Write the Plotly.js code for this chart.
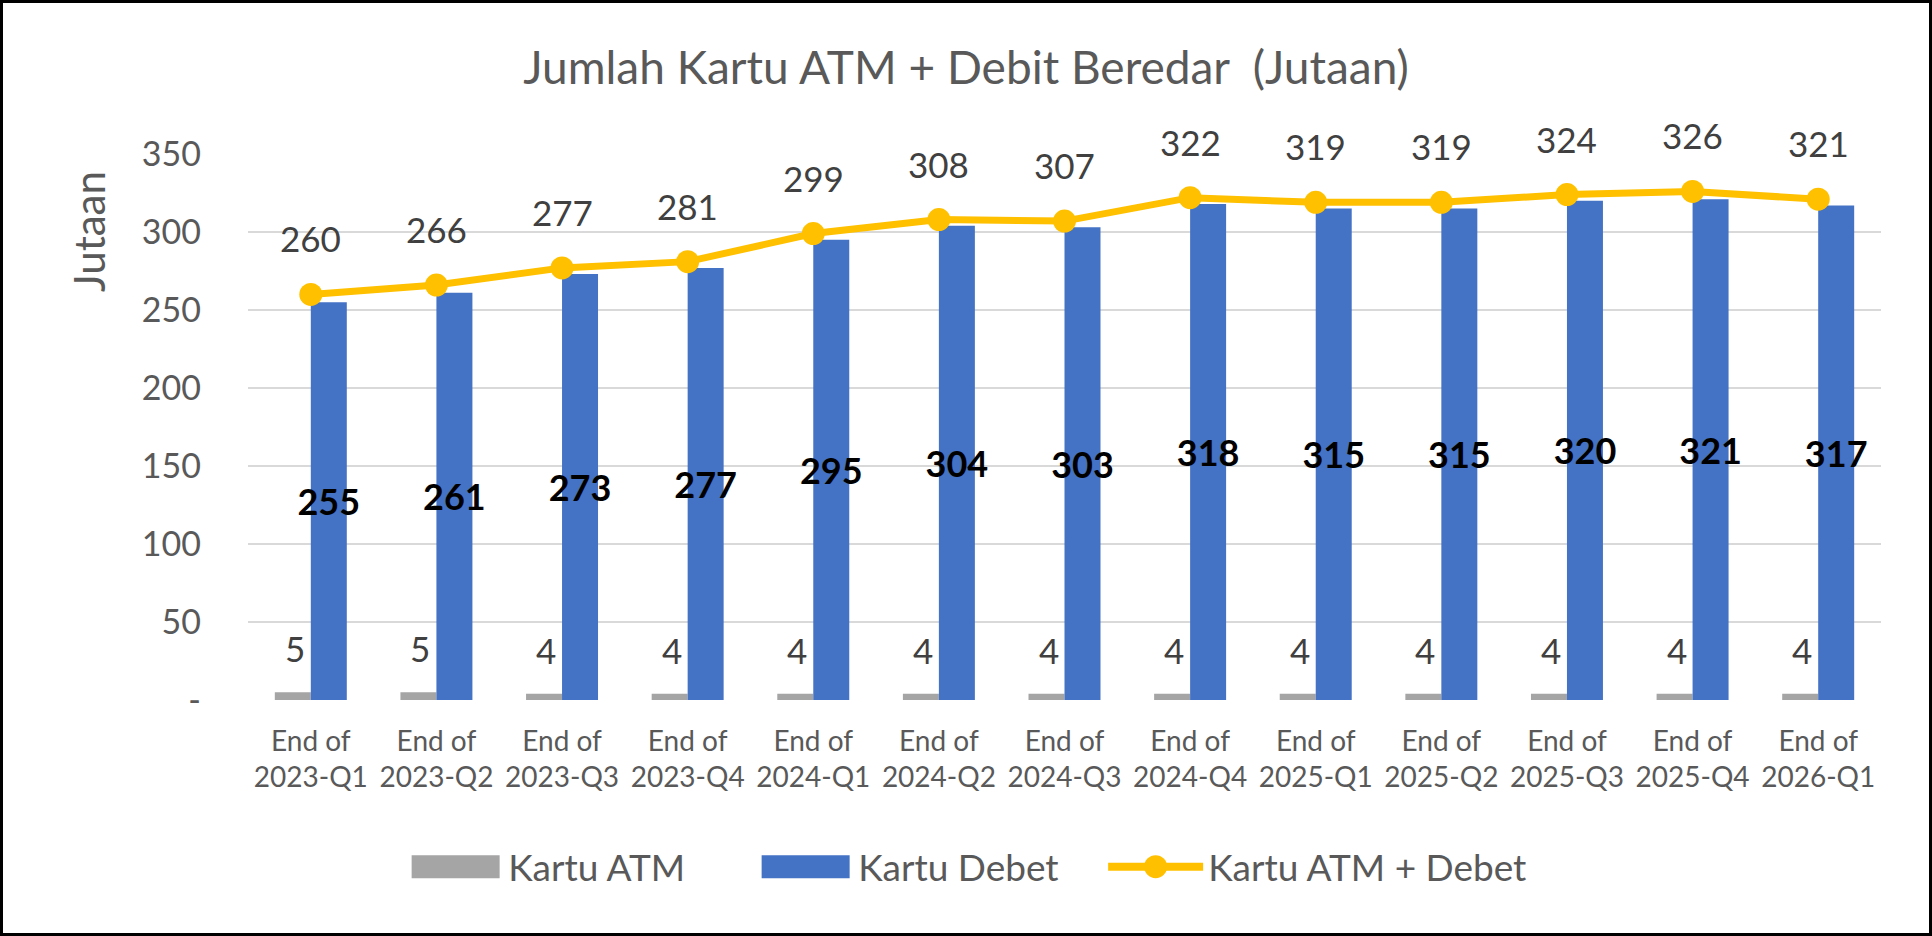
<!DOCTYPE html>
<html>
<head>
<meta charset="utf-8">
<script src="https://cdn.plot.ly/plotly-3.0.1.min.js"></script>
<style>
    html, body { margin: 0; padding: 0; background: #fff; }
    #frame {
        position: absolute; left: 0; top: 0;
        width: 1932px; height: 936px;
        box-sizing: border-box;
        border: 3px solid #000;
        background: #fff;
    }
    #chart { width: 1926px; height: 930px; }
</style>
</head>
<body>
<div id="frame"><div id="chart"></div></div>
<script>
// =========================
// DATA
// =========================
const periods = ["2023-Q1", "2023-Q2", "2023-Q3", "2023-Q4", "2024-Q1", "2024-Q2", "2024-Q3",
                 "2024-Q4", "2025-Q1", "2025-Q2", "2025-Q3", "2025-Q4", "2026-Q1"];
const kartuATM = [5, 5, 4, 4, 4, 4, 4, 4, 4, 4, 4, 4, 4];
const kartuDebet = [255, 261, 273, 277, 295, 304, 303, 318, 315, 315, 320, 321, 317];
const kartuTotal = [260, 266, 277, 281, 299, 308, 307, 322, 319, 319, 324, 326, 321];
const yTickVals = [0, 50, 100, 150, 200, 250, 300, 350];
const yTickText = ["-", "50", "100", "150", "200", "250", "300", "350"];

const categories = periods.map(p => "End of<br>" + p);

// =========================
// STYLE
// =========================
const FONT = "Lato, 'Open Sans', sans-serif";
const GREY_TXT = "#595959";
const DARK_TXT = "#404040";

// =========================
// TRACES
// =========================
let traceATM = {
    x: categories,
    y: kartuATM,
    type: "bar",
    name: "Kartu ATM",
    marker: { color: "#A5A5A5" }
};

let traceDebet = {
    x: categories,
    y: kartuDebet,
    type: "bar",
    name: "Kartu Debet",
    marker: { color: "#4472C4" },
    text: kartuDebet.map(String),
    textposition: "inside",
    insidetextanchor: "middle",
    textangle: 0,
    constraintext: "none",
    textfont: { family: FONT, size: 36, color: "#000", weight: "bold" }
};

let traceTotal = {
    x: categories,
    y: kartuTotal,
    type: "scatter",
    mode: "lines+markers",
    name: "Kartu ATM + Debet",
    line: { color: "#FFC000", width: 7 },
    marker: { color: "#FFC000", size: 23 },
    cliponaxis: false
};

// =========================
// LABELS (annotations)
// =========================
let annotations = [];

kartuTotal.forEach((v, i) => {
    annotations.push({
        x: categories[i], y: v, xref: "x", yref: "y",
        text: String(v), showarrow: false,
        yshift: 56, yanchor: "middle",
        font: { family: FONT, size: 35, color: DARK_TXT }
    });
});

kartuATM.forEach((v, i) => {
    annotations.push({
        x: categories[i], y: v, xref: "x", yref: "y",
        text: String(v), showarrow: false,
        xshift: -16, yshift: 44, yanchor: "middle",
        font: { family: FONT, size: 35, color: DARK_TXT }
    });
});

annotations.push({
    text: "Jutaan", xref: "paper", yref: "paper",
    x: -0.0974, y: 0.859, showarrow: false, textangle: -90,
    xanchor: "center", yanchor: "middle",
    font: { family: FONT, size: 42, color: GREY_TXT }
});

// =========================
// LAYOUT
// =========================
let layout = {
    width: 1926,
    height: 930,
    margin: { l: 245, r: 48, t: 151, b: 233, autoexpand: false },
    paper_bgcolor: "#fff",
    plot_bgcolor: "#fff",
    font: { family: FONT, color: GREY_TXT },
    title: {
        text: "Jumlah Kartu ATM + Debit Beredar  (Jutaan)",
        x: 0.5, xref: "container", xanchor: "center",
        y: 0.9306, yref: "container", yanchor: "middle",
        font: { family: FONT, size: 46, color: GREY_TXT }
    },
    barmode: "group",
    bargap: 0.427,
    bargroupgap: 0,
    xaxis: {
        type: "category",
        range: [-0.5, periods.length - 0.5],
        showgrid: false,
        showline: false,
        zeroline: false,
        ticks: "",
        tickangle: 0,
        automargin: false,
        ticklabelstandoff: 22,
        tickfont: { family: FONT, size: 28, color: GREY_TXT }
    },
    yaxis: {
        range: [0, 350],
        tickvals: yTickVals,
        ticktext: yTickText,
        showgrid: true,
        gridcolor: "#D9D9D9",
        gridwidth: 2.5,
        zeroline: false,
        showline: false,
        ticks: "",
        automargin: false,
        ticklabelstandoff: 46,
        tickfont: { family: FONT, size: 34, color: GREY_TXT }
    },
    showlegend: true,
    legend: {
        orientation: "h",
        x: 0.095, xanchor: "left",
        y: -0.306, yanchor: "middle",
        itemwidth: 95,
        entrywidth: 240,
        font: { family: FONT, size: 37, color: GREY_TXT },
        traceorder: "normal"
    },
    annotations: annotations
};

Plotly.newPlot("chart", [traceATM, traceDebet, traceTotal], layout, { displayModeBar: false, staticPlot: true })
    .then(() => {
        // legend symbols: wide bar swatches, thicker line and bigger dot like Excel
        document.querySelectorAll("#chart .legend .legendpoints path").forEach(p => {
            if (p.classList.contains("scatterpts")) {
                p.setAttribute("d", "M11.5,0A11.5,11.5 0 1,1 0,-11.5A11.5,11.5 0 0,1 11.5,0Z");
            } else {
                p.setAttribute("d", "M44,11.5H-44V-11.5H44Z");
            }
        });
        document.querySelectorAll("#chart .legend .legendlines path").forEach(p => {
            p.style.strokeWidth = "8px";
        });
        // let the last legend entry show its full text
        document.querySelectorAll("clipPath[id^='legend'] rect").forEach(r => {
            r.setAttribute("width", 1600);
        });
    });
</script>
</body>
</html>
